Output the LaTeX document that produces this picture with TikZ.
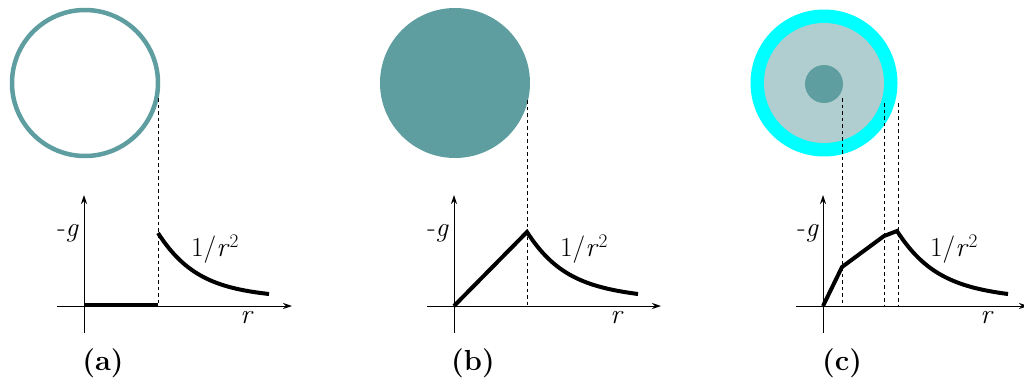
\documentclass[tikz,border=0pt]{standalone}
\usetikzlibrary{arrows.meta}
\definecolor{cadet}{RGB}{95,158,160}
\definecolor{aqua}{RGB}{0,255,255}
\definecolor{shade}{RGB}{176,206,207}
\begin{document}
\begin{tikzpicture}[x=1pt,y=-1pt,
 axis/.style={line width=1pt,-{Stealth[length=9pt,width=6pt]}},
 curve/.style={line width=4pt},
 guide/.style={line width=0.8pt,dash pattern=on 3.5pt off 3pt},
 lab/.style={font=\fontsize{27.5}{32}\selectfont,inner sep=0pt},
 sublab/.style={font=\fontsize{29}{32}\selectfont\bfseries,inner sep=0pt},
 ball/.style={circle,inner sep=0pt}]
\useasboundingbox (0,0) rectangle (1024,383);

% ---------- (a) ----------
\node[ball,draw=cadet,line width=4.5pt,minimum size=146pt] (ca) at (85,83) {};
\coordinate (ayb) at (84,333); \coordinate (ayt) at (84,195);
\coordinate (axl) at (57,306); \coordinate (axr) at (292,306);
\draw[axis] (ayb) -- (ayt);
\draw[axis] (axl) -- (axr);
\coordinate (ao) at (84,305); \coordinate (ae) at (158,305);
\draw[curve] (ao) -- (ae);
\coordinate (ad) at (158,98); \coordinate (adb) at (158,306);
\draw[guide] (ad) -- (adb);
\coordinate (as) at (158,233); \coordinate (aend) at (269,294);
\draw[curve] (as) .. controls (185,275) and (215,288) .. (aend);
\node[lab] (ag) at (68,233) {-\textit{g}};
\node[lab] (ar) at (247,318) {\textit{r}};
\node[lab] (ainv) at (215,249) {1/\textit{r}\textsuperscript{2}};
\node[sublab] (acap) at (103,363) {(a)};

% ---------- (b) ----------
\node[ball,fill=cadet,minimum size=150pt] (cb) at (455,83) {};
\coordinate (byb) at (454,333); \coordinate (byt) at (454,195);
\coordinate (bxl) at (427,306); \coordinate (bxr) at (661,306);
\draw[axis] (byb) -- (byt);
\draw[axis] (bxl) -- (bxr);
\coordinate (bo) at (454,306); \coordinate (bp) at (527,232);
\coordinate (bd) at (527,100); \coordinate (bdb) at (527,306);
\draw[guide] (bd) -- (bdb);
\coordinate (bend) at (638,294);
\draw[curve] (bo) -- (bp) .. controls (554,274) and (584,287) .. (bend);
\node[lab] (bg) at (438,233) {-\textit{g}};
\node[lab] (br) at (617,318) {\textit{r}};
\node[lab] (binv) at (584,249) {1/\textit{r}\textsuperscript{2}};
\node[sublab] (bcap) at (473,363) {(b)};

% ---------- (c) ----------
\node[ball,fill=aqua,minimum size=147pt] (cc) at (824,83) {};
\node[ball,fill=shade,minimum size=120pt] (cs) at (cc) {};
\node[ball,fill=cadet,minimum size=38pt] (cn) at (824,84) {};
\coordinate (cyb) at (823,333); \coordinate (cyt) at (823,195);
\coordinate (cxl) at (796,306); \coordinate (cxr) at (1028,306);
\draw[axis] (cyb) -- (cyt);
\draw[axis] (cxl) -- (cxr);
\coordinate (cd1) at (842,98);  \coordinate (cd1b) at (842,306);
\coordinate (cd2) at (884,103); \coordinate (cd2b) at (884,306);
\coordinate (cd3) at (898,103); \coordinate (cd3b) at (898,306);
\draw[guide] (cd1) -- (cd1b);
\draw[guide] (cd2) -- (cd2b);
\draw[guide] (cd3) -- (cd3b);
\coordinate (co) at (823,306); \coordinate (ck1) at (842,267);
\coordinate (ck2) at (884,236); \coordinate (cp) at (897,231);
\coordinate (cend) at (1008,294);
\draw[curve] (co) -- (ck1) -- (ck2) -- (cp) .. controls (924,273) and (954,287) .. (cend);
\node[lab] (cg) at (808,233) {-\textit{g}};
\node[lab] (cr) at (987,318) {\textit{r}};
\node[lab] (cinv) at (954,249) {1/\textit{r}\textsuperscript{2}};
\node[sublab] (ccap) at (842,363) {(c)};
\end{tikzpicture}
\end{document}
